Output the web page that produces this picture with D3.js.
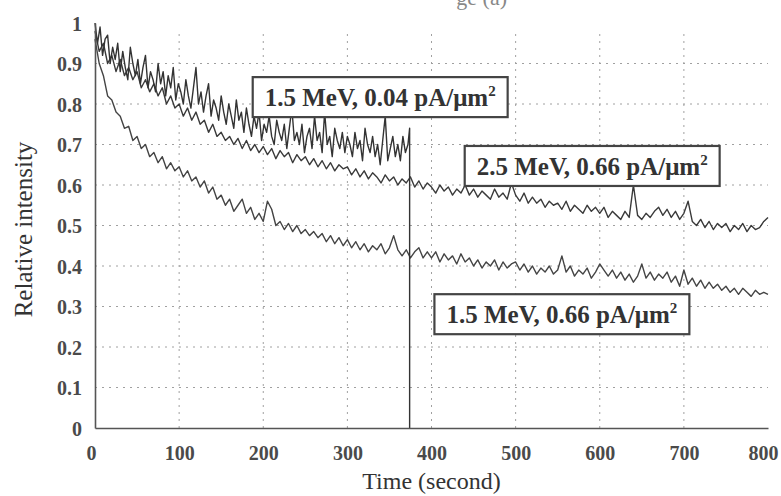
<!DOCTYPE html>
<html>
<head>
<meta charset="utf-8">
<script src="https://cdn.jsdelivr.net/npm/d3@7"></script>
<style>
  body { margin: 0; background: #fff; }
  svg { display: block; }
</style>
</head>
<body>
<svg id="chart" width="781" height="496"></svg>
<script>
// ticks
const xTicks = [0, 100, 200, 300, 400, 500, 600, 700, 800];
const yTicks = [0, 0.1, 0.2, 0.3, 0.4, 0.5, 0.6, 0.7, 0.8, 0.9, 1];

// 1.5 MeV, 0.04 pA/um2 - sampled every 3 s, stops at ~374 s
const stepA = 3;
const intensityA = [
  1.00, 0.95, 0.99, 0.92, 0.96, 0.97, 0.90, 0.94, 0.91, 0.95,
  0.88, 0.93, 0.89, 0.86, 0.94, 0.90, 0.87, 0.91, 0.85, 0.89,
  0.92, 0.84, 0.88, 0.86, 0.83, 0.90, 0.85, 0.88, 0.82, 0.87,
  0.84, 0.89, 0.81, 0.85, 0.83, 0.80, 0.86, 0.82, 0.79, 0.84,
  0.89, 0.80, 0.83, 0.78, 0.82, 0.85, 0.77, 0.81, 0.79, 0.76,
  0.82, 0.78, 0.75, 0.80, 0.77, 0.74, 0.81, 0.76, 0.78, 0.73,
  0.79, 0.75, 0.72, 0.77, 0.74, 0.78, 0.71, 0.75, 0.73, 0.77,
  0.72, 0.70, 0.76, 0.73, 0.71, 0.75, 0.69, 0.74, 0.79, 0.71,
  0.73, 0.70, 0.75, 0.68, 0.72, 0.74, 0.69, 0.77, 0.71, 0.73,
  0.68, 0.78, 0.70, 0.72, 0.67, 0.74, 0.71, 0.69, 0.73, 0.68,
  0.72, 0.70, 0.67, 0.73, 0.69, 0.71, 0.66, 0.74, 0.70, 0.68,
  0.72, 0.67, 0.70, 0.65, 0.71, 0.77, 0.66, 0.69, 0.72, 0.67,
  0.70, 0.66, 0.72, 0.68, 0.70
];
const dropA = [[374, 0.74], [374, 0]];

// 2.5 MeV, 0.66 pA/um2 - every 5 s
const stepB = 5;
const intensityB = [
  0.98, 0.93, 0.95, 0.90, 0.92, 0.88, 0.91, 0.87, 0.89, 0.86,
  0.88, 0.84, 0.86, 0.83, 0.85, 0.82, 0.84, 0.80, 0.82, 0.79,
  0.80, 0.77, 0.79, 0.76, 0.78, 0.75, 0.76, 0.73, 0.75, 0.72,
  0.73, 0.71, 0.72, 0.70, 0.715, 0.69, 0.71, 0.685, 0.70, 0.68,
  0.695, 0.675, 0.69, 0.665, 0.685, 0.67, 0.68, 0.655, 0.675, 0.66,
  0.67, 0.65, 0.665, 0.645, 0.66, 0.64, 0.655, 0.635, 0.65, 0.64,
  0.645, 0.625, 0.64, 0.62, 0.635, 0.615, 0.63, 0.62, 0.605, 0.625,
  0.61, 0.62, 0.60, 0.615, 0.605, 0.62, 0.595, 0.61, 0.59, 0.605,
  0.595, 0.58, 0.60, 0.585, 0.595, 0.575, 0.59, 0.58, 0.60, 0.575,
  0.59, 0.57, 0.585, 0.575, 0.565, 0.59, 0.57, 0.58, 0.565, 0.605,
  0.575, 0.56, 0.58, 0.555, 0.57, 0.555, 0.565, 0.545, 0.56, 0.55,
  0.555, 0.54, 0.56, 0.535, 0.55, 0.54, 0.53, 0.55, 0.535, 0.545,
  0.53, 0.545, 0.52, 0.535, 0.525, 0.515, 0.535, 0.52, 0.60, 0.525,
  0.515, 0.53, 0.52, 0.535, 0.545, 0.525, 0.54, 0.52, 0.535, 0.515,
  0.53, 0.56, 0.51, 0.50, 0.515, 0.495, 0.51, 0.49, 0.505, 0.495,
  0.505, 0.485, 0.50, 0.49, 0.505, 0.485, 0.50, 0.49, 0.495, 0.51,
  0.52
];

// 1.5 MeV, 0.66 pA/um2 - every 5 s
const stepC = 5;
const intensityC = [
  0.96, 0.90, 0.87, 0.82, 0.81, 0.78, 0.77, 0.74, 0.745, 0.71,
  0.72, 0.69, 0.70, 0.67, 0.68, 0.655, 0.67, 0.64, 0.655, 0.635,
  0.645, 0.62, 0.635, 0.61, 0.62, 0.595, 0.61, 0.58, 0.595, 0.565,
  0.575, 0.55, 0.565, 0.535, 0.55, 0.565, 0.53, 0.545, 0.515, 0.53,
  0.51, 0.56, 0.54, 0.50, 0.51, 0.49, 0.505, 0.485, 0.50, 0.48,
  0.49, 0.475, 0.485, 0.47, 0.48, 0.46, 0.475, 0.455, 0.47, 0.45,
  0.465, 0.445, 0.46, 0.44, 0.455, 0.435, 0.45, 0.44, 0.455, 0.43,
  0.445, 0.475, 0.44, 0.425, 0.44, 0.42, 0.435, 0.445, 0.42, 0.435,
  0.42, 0.435, 0.41, 0.43, 0.415, 0.425, 0.405, 0.43, 0.41, 0.42,
  0.40, 0.415, 0.395, 0.41, 0.40, 0.415, 0.39, 0.41, 0.395, 0.405,
  0.41, 0.39, 0.405, 0.385, 0.40, 0.38, 0.395, 0.385, 0.40, 0.38,
  0.39, 0.425, 0.385, 0.40, 0.375, 0.39, 0.38, 0.395, 0.37, 0.385,
  0.405, 0.39, 0.375, 0.39, 0.37, 0.385, 0.365, 0.38, 0.36, 0.375,
  0.405, 0.37, 0.385, 0.365, 0.38, 0.37, 0.385, 0.36, 0.375, 0.35,
  0.39, 0.355, 0.37, 0.35, 0.365, 0.345, 0.36, 0.345, 0.355, 0.34,
  0.35, 0.335, 0.345, 0.33, 0.345, 0.335, 0.325, 0.34, 0.33, 0.335,
  0.33
];

// boxed labels, anchored in data units (time, intensity)
const noteText = ["1.5 MeV, 0.04 pA/\u03bcm", "2.5 MeV, 0.66 pA/\u03bcm", "1.5 MeV, 0.66 pA/\u03bcm"];
const noteTime = [339, 591, 555];
const noteLevel = [0.817, 0.647, 0.281];

const svg = d3.select("#chart");
const x = d3.scaleLinear().domain([0, 800]).range([95, 768]);
const y = d3.scaleLinear().domain([0, 1]).range([428, 23]);
const serif = "'Liberation Serif', 'Times New Roman', serif";

// heading, cut off at the top edge as in the scan
svg.append("text")
  .attr("x", 507).attr("y", 5)
  .attr("text-anchor", "end")
  .attr("font-family", serif).attr("font-size", 22)
  .attr("fill", "#888")
  .text("ge (a)");

// dotted grid
const grid = svg.append("g")
  .attr("stroke", "#a0a0a0")
  .attr("stroke-width", 1)
  .attr("stroke-dasharray", "2,5");
grid.selectAll(".gx")
  .data(xTicks.filter(d => d > 0 && d < 800))
  .enter().append("line")
  .attr("x1", d => x(d)).attr("x2", d => x(d))
  .attr("y1", y(0)).attr("y2", y(1) + 6);
grid.selectAll(".gy")
  .data(yTicks.filter(d => d > 0 && d < 1))
  .enter().append("line")
  .attr("x1", x(0)).attr("x2", x(800))
  .attr("y1", d => y(d)).attr("y2", d => y(d));

// series
const line = d3.line().x(d => x(d[0])).y(d => y(d[1]));
const seriesA = intensityA.map((v, i) => [i * stepA, v]).concat(dropA);
const seriesB = intensityB.map((v, i) => [i * stepB, v]);
const seriesC = intensityC.map((v, i) => [i * stepC, v]);

[[seriesC, "#444"], [seriesB, "#3a3a3a"], [seriesA, "#333"]].forEach(s => {
  svg.append("path")
    .datum(s[0])
    .attr("d", line)
    .attr("fill", "none")
    .attr("stroke", s[1])
    .attr("stroke-width", 1.4)
    .attr("stroke-linejoin", "round");
});

// axes
const xAxis = svg.append("g")
  .attr("transform", `translate(0,${y(0)})`)
  .call(d3.axisBottom(x).tickValues(xTicks).tickSize(0).tickPadding(18));
const yAxis = svg.append("g")
  .attr("transform", `translate(${x(0)},0)`)
  .call(d3.axisLeft(y).tickValues(yTicks).tickSize(0).tickPadding(13).tickFormat(d3.format("~g")));

[xAxis, yAxis].forEach(a => {
  a.select(".domain").attr("stroke", "#555").attr("stroke-width", 1.6);
  a.selectAll("text")
    .attr("font-family", serif)
    .attr("font-size", 20)
    .attr("font-weight", "bold")
    .attr("fill", "#4a4a4a");
});
yAxis.selectAll("text").attr("dy", "0.35em");
xAxis.selectAll("text").attr("dx", d => d === 800 ? -5 : d === 0 ? -4 : 0);

// axis titles
svg.append("text")
  .attr("x", (x(0) + x(800)) / 2).attr("y", 489)
  .attr("text-anchor", "middle")
  .attr("font-family", serif).attr("font-size", 24)
  .attr("fill", "#333")
  .text("Time (second)");

svg.append("text")
  .attr("transform", `translate(32,${(y(0) + y(1)) / 2 + 4}) rotate(-90)`)
  .attr("text-anchor", "middle")
  .attr("font-family", serif).attr("font-size", 25)
  .attr("fill", "#333")
  .text("Relative intensity");

// labelled boxes
noteText.forEach((t, i) => {
  const g = svg.append("g")
    .attr("transform", `translate(${x(noteTime[i])},${y(noteLevel[i])})`);
  const label = g.append("text")
    .attr("text-anchor", "middle")
    .attr("y", 9)
    .attr("font-family", serif).attr("font-size", 25)
    .attr("font-weight", "bold")
    .attr("fill", "#333");
  label.append("tspan").text(t);
  label.append("tspan").attr("dy", -10).attr("font-size", 15).text("2");
  const bb = label.node().getBBox();
  g.insert("rect", "text")
    .attr("x", bb.x - 12).attr("y", -20)
    .attr("width", bb.width + 24).attr("height", 40)
    .attr("fill", "#fff")
    .attr("stroke", "#444")
    .attr("stroke-width", 2.2);
});
</script>
</body>
</html>
